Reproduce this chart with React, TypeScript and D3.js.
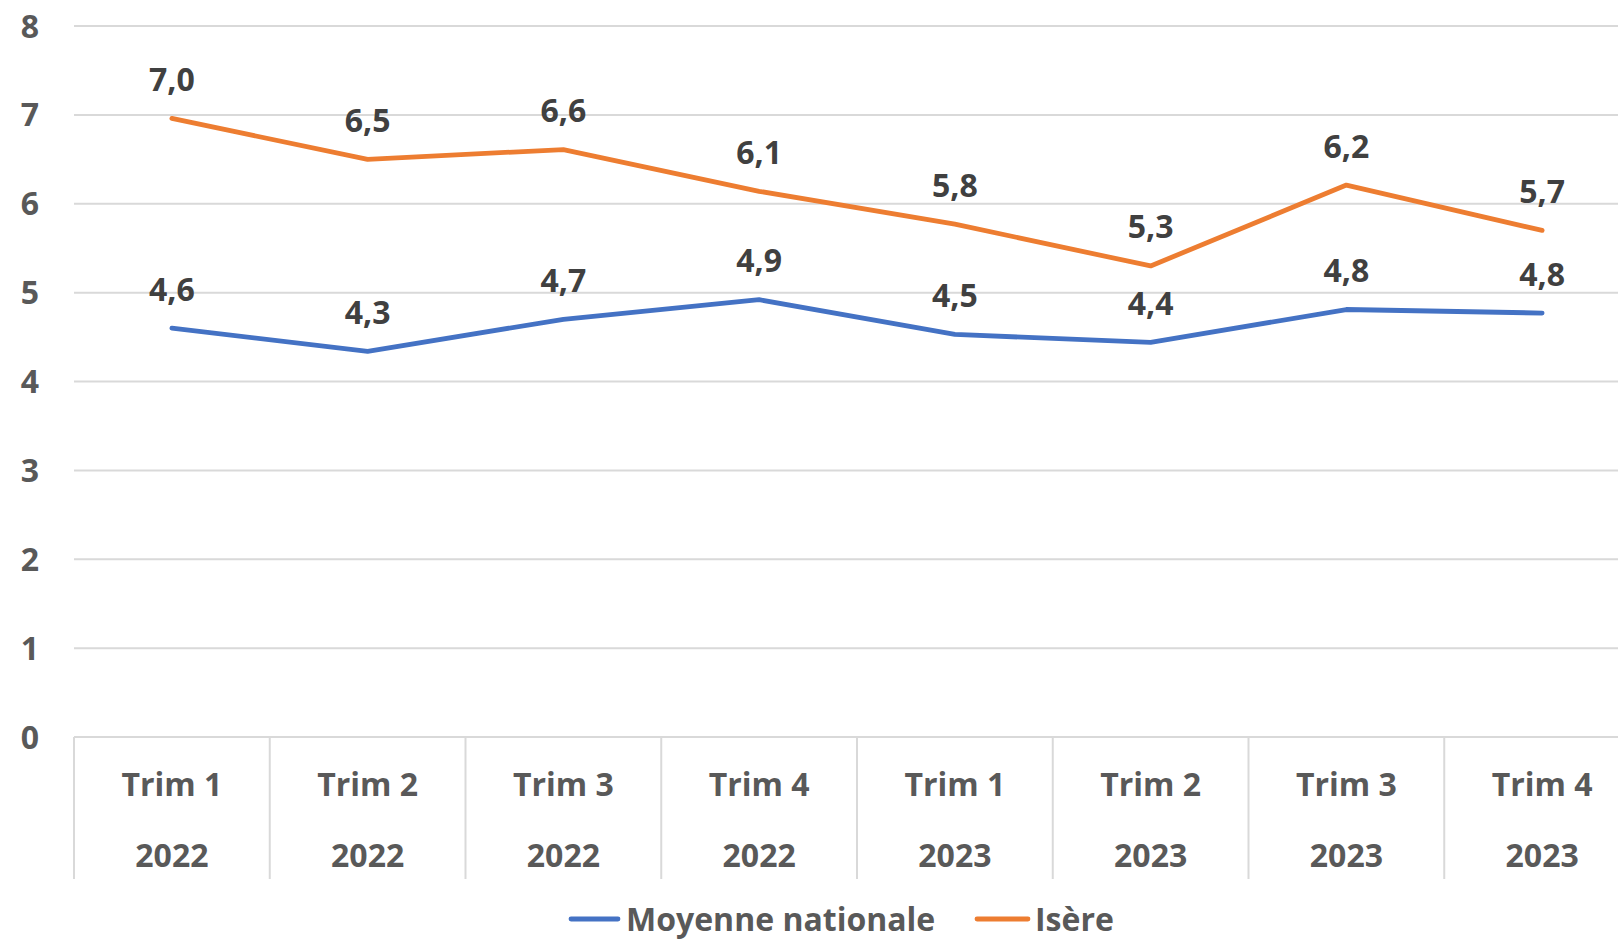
import React, { useEffect } from "react";
import * as d3 from "d3";

const quarters = ["Trim 1", "Trim 2", "Trim 3", "Trim 4", "Trim 1", "Trim 2", "Trim 3", "Trim 4"];
const years = ["2022", "2022", "2022", "2022", "2023", "2023", "2023", "2023"];
const nationale = [4.6, 4.34, 4.7, 4.92, 4.53, 4.44, 4.81, 4.77];
const isere = [6.96, 6.5, 6.61, 6.14, 5.77, 5.3, 6.21, 5.7];
const yTicks = [0, 1, 2, 3, 4, 5, 6, 7, 8];

const series = [
  { name: "Moyenne nationale", values: nationale, color: "#4472C4" },
  { name: "Isère", values: isere, color: "#ED7D31" },
];

const W = 1618;
const H = 939;
const FONT = "'Open Sans', Lato, sans-serif";
const FS = 32;

export default function App() {
  useEffect(() => {
    document.body.style.margin = "0";
  }, []);

  const x = d3
    .scaleBand<number>()
    .domain(quarters.map((_, i) => i))
    .range([74, 1640]);
  const y = d3.scaleLinear().domain([0, 8]).range([737, 26]);
  const cx = (i: number) => (x(i) ?? 0) + x.bandwidth() / 2;

  const line = d3
    .line<number>()
    .x((_, i) => cx(i))
    .y((d) => y(d));

  const fmt = (v: number) => d3.format(".1f")(v).replace(".", ",");
  const axisBottom = y(0);

  return (
    <svg width={W} height={H} style={{ display: "block", background: "#fff" }} fontFamily={FONT}>
      {/* grid */}
      {yTicks.map((t) => (
        <g key={t}>
          <line x1={74} x2={1640} y1={y(t)} y2={y(t)} stroke="#D9D9D9" strokeWidth={2} />
          <text
            x={30}
            y={y(t)}
            dy="0.36em"
            textAnchor="middle"
            fontSize={FS}
            fontWeight="bold"
            fill="#595959"
          >
            {t}
          </text>
        </g>
      ))}

      {/* category separators */}
      {quarters.map((_, i) => (
        <line
          key={"s" + i}
          x1={x(i)}
          x2={x(i)}
          y1={axisBottom}
          y2={879}
          stroke="#D9D9D9"
          strokeWidth={2}
        />
      ))}
      <line x1={1640} x2={1640} y1={axisBottom} y2={879} stroke="#D9D9D9" strokeWidth={2} />

      {/* category labels */}
      {quarters.map((q, i) => (
        <g key={"c" + i} fontSize={FS} fontWeight="bold" fill="#595959" textAnchor="middle">
          <text x={cx(i)} y={784} dy="0.36em">
            {q}
          </text>
          <text x={cx(i)} y={855} dy="0.36em">
            {years[i]}
          </text>
        </g>
      ))}

      {/* lines */}
      {series.map((s) => (
        <path
          key={s.name}
          d={line(s.values) ?? ""}
          fill="none"
          stroke={s.color}
          strokeWidth={4.8}
          strokeLinecap="round"
          strokeLinejoin="round"
        />
      ))}

      {/* data labels */}
      {series.map((s) =>
        s.values.map((v, i) => (
          <text
            key={s.name + i}
            x={cx(i)}
            y={y(v) - 39}
            dy="0.36em"
            textAnchor="middle"
            fontSize={FS}
            fontWeight="bold"
            fill="#404040"
          >
            {fmt(v)}
          </text>
        ))
      )}

      {/* legend */}
      <g fontSize={FS} fontWeight="bold" fill="#595959">
        <line x1={571} x2={618} y1={919} y2={919} stroke="#4472C4" strokeWidth={4.8} strokeLinecap="round" />
        <text x={626} y={919} dy="0.36em">
          {series[0].name}
        </text>
        <line x1={977} x2={1028} y1={919} y2={919} stroke="#ED7D31" strokeWidth={4.8} strokeLinecap="round" />
        <text x={1035} y={919} dy="0.36em">
          {series[1].name}
        </text>
      </g>
    </svg>
  );
}
